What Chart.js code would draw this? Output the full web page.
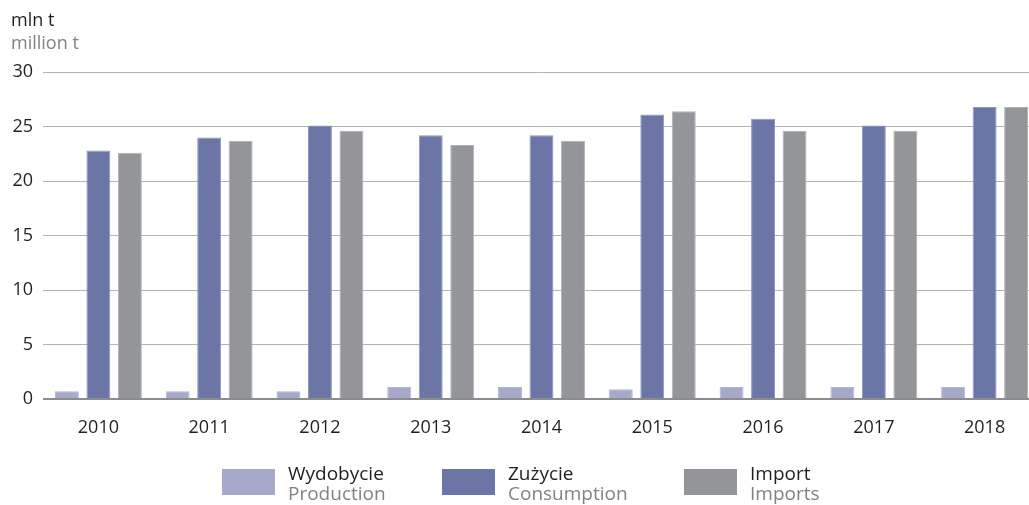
<!DOCTYPE html>
<html>
<head>
<meta charset="utf-8">
<script src="https://cdn.jsdelivr.net/npm/chart.js@4"></script>
<style>
  html, body { margin: 0; padding: 0; background: #fff; overflow: hidden; }
  body { width: 1029px; height: 505px; position: relative; font-family: "Open Sans", sans-serif; }
  .wrap { position: absolute; left: 0; top: 0; width: 1040px; height: 440px; }
  .unit { position: absolute; left: 11px; top: 8px; font-size: 18px; line-height: 23px; color: #231f20; }
  .unit span { color: #808285; }
  .legend { position: absolute; left: 0; top: 0; width: 1029px; height: 505px; pointer-events: none; }
  .item { position: absolute; top: 463px; }
  .box { position: absolute; top: 6px; width: 53px; height: 26px; }
  .txt { position: absolute; left: 66px; top: 0; font-size: 19px; line-height: 20px; color: #231f20; white-space: nowrap; }
  .txt span { color: #808285; }
</style>
</head>
<body>
<div class="wrap"><canvas id="cv"></canvas></div>
<div class="unit">mln t<br><span>million t</span></div>
<div class="legend" id="legend"></div>
<script>
// dane (mln t)
const years = ['2010', '2011', '2012', '2013', '2014', '2015', '2016', '2017', '2018'];
const production = [0.7, 0.7, 0.7, 1.1, 1.1, 0.9, 1.1, 1.1, 1.1];
const consumption = [22.8, 24.0, 25.1, 24.2, 24.2, 26.1, 25.7, 25.1, 26.8];
const imports = [22.6, 23.7, 24.6, 23.3, 23.7, 26.4, 24.6, 24.6, 26.8];
const yTicks = [0, 5, 10, 15, 20, 25, 30];

// legenda: pozycje x
const legendX = [222, 442, 684];

const ctx = document.getElementById('cv').getContext('2d');

const chart = new Chart(ctx, {
  type: 'bar',
  data: {
    labels: years,
    datasets: [
      { label: ['Wydobycie', 'Production'], data: production, backgroundColor: '#a6a9c9', borderColor: '#b4b7d3', borderWidth: 1 },
      { label: ['Zużycie', 'Consumption'], data: consumption, backgroundColor: '#6b76a6', borderColor: '#8e97bf', borderWidth: 1 },
      { label: ['Import', 'Imports'], data: imports, backgroundColor: '#939598', borderColor: '#b0b2b4', borderWidth: 1 }
    ]
  },
  options: {
    responsive: true,
    maintainAspectRatio: false,
    animation: false,
    categoryPercentage: 0.853,
    barPercentage: 0.76,
    layout: { padding: { top: 72, left: 0, right: 0, bottom: 0 } },
    plugins: { legend: { display: false }, tooltip: { enabled: false } },
    scales: {
      x: {
        offset: true,
        grid: { display: false },
        border: { display: false },
        ticks: { color: '#231f20', font: { family: 'Open Sans', size: 18 }, padding: 10, maxRotation: 0 },
        afterFit: (s) => { s.height = 41; }
      },
      y: {
        min: 0,
        max: 30,
        afterBuildTicks: (s) => { s.ticks = yTicks.map((v) => ({ value: v })); },
        grid: {
          drawTicks: false,
          color: (c) => c.index === 0 ? '#8a8c8e' : '#b3b3b3',
          lineWidth: (c) => c.index === 0 ? 2 : 1
        },
        border: { display: false },
        ticks: { color: '#231f20', font: { family: 'Open Sans', size: 18 }, padding: 10 },
        afterFit: (s) => { s.width = 43; }
      }
    }
  }
});

// legenda html z danych wykresu
const legend = document.getElementById('legend');
chart.data.datasets.forEach((ds, i) => {
  const item = document.createElement('div');
  item.className = 'item';
  item.style.left = legendX[i] + 'px';
  item.innerHTML = '<div class="box" style="background:' + ds.backgroundColor + '"></div>' +
    '<div class="txt">' + ds.label[0] + '<br><span>' + ds.label[1] + '</span></div>';
  legend.appendChild(item);
});
</script>
</body>
</html>
